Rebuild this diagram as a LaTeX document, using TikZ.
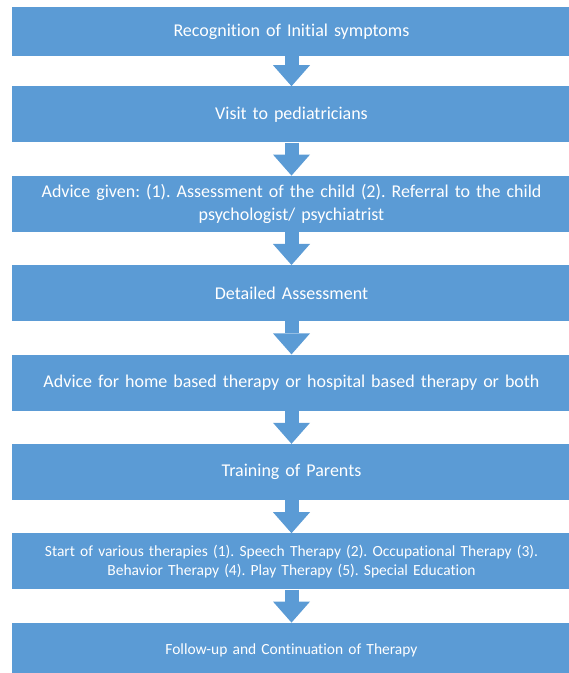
\documentclass[tikz,border=0pt]{standalone}
\usepackage{fontspec}
\setmainfont{Carlito}[Ligatures={NoCommon, NoRequired, NoContextual}]
\usepackage{xcolor}
\usepackage{tikz}
\usetikzlibrary{positioning, arrows.meta}

\definecolor{boxblue}{HTML}{5B9BD5}
\frenchspacing

\begin{document}
\begin{tikzpicture}[
    node distance=33bp,
    box/.style={
        fill=boxblue,
        text=white,
        align=center,
        text width=560bp,
        minimum height=56bp,
        inner xsep=0pt,
        font=\fontsize{18bp}{23bp}\selectfont
    },
    smallbox/.style={box, font=\fontsize{15.5bp}{19bp}\selectfont},
    arrow/.style={draw=boxblue, line width=14bp, -{Triangle[width=37bp, length=21bp, line width=0pt]}}
]
\clip (0,0) rectangle (569bp,-673bp);

% --- Steps ---
\node[box, minimum height=49bp] (recog) at (291.5bp,-31.5bp) {Recognition of Initial symptoms};

\node[box, below=30bp of recog] (visit) {Visit to pediatricians};

\node[box, below=of visit] (advice) {Advice given: (1). Assessment of the child (2). Referral to the child\\psychologist/ psychiatrist};

\node[box, below=of advice] (detail) {Detailed Assessment};

\node[box, below=of detail] (home) {Advice for home based therapy or hospital based therapy or both};

\node[box, below=of home] (parents) {Training of Parents};

\node[smallbox, below=of parents] (therapies) {Start of various therapies (1). Speech Therapy (2). Occupational Therapy (3).\\Behavior Therapy (4). Play Therapy (5). Special Education};

\node[smallbox, below=of therapies] (follow) {Follow-up and Continuation of Therapy};

% --- Block arrows ---
\draw[arrow] (recog.south) -- (visit.north);
\draw[arrow] (visit.south) -- (advice.north);
\draw[arrow] (advice.south) -- (detail.north);
\draw[arrow] (detail.south) -- (home.north);
\draw[arrow] (home.south) -- (parents.north);
\draw[arrow] (parents.south) -- (therapies.north);
\draw[arrow] (therapies.south) -- (follow.north);

\end{tikzpicture}
\end{document}
